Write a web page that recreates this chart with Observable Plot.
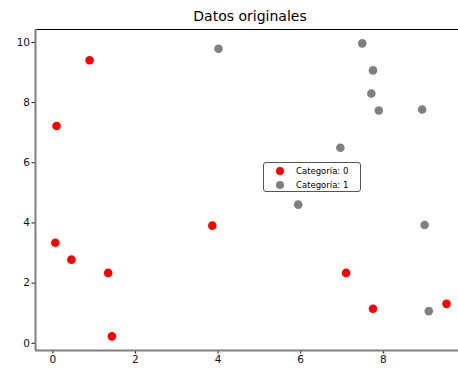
<!DOCTYPE html>
<html>
<head>
<meta charset="utf-8">
<script src="https://cdn.jsdelivr.net/npm/d3@7"></script>
<script src="https://cdn.jsdelivr.net/npm/@observablehq/plot@0.6"></script>
<style>
  html, body { margin: 0; padding: 0; background: #fff; }
  #wrap { position: relative; width: 458px; height: 372px; font-family: "DejaVu Sans", sans-serif; }
  #title { height: 24px; width: 500px; text-align: center; font-size: 14px; line-height: 14px; padding-top: 9px; box-sizing: border-box; color: #000; }
  #legend { position: absolute; left: 263px; top: 162px; width: 96px; height: 28px; border: 1px solid #555; border-radius: 3px; background: rgba(255,255,255,0.8); font-size: 8.5px; color: #000; }
  .row { position: absolute; left: 0; height: 12px; line-height: 12px; }
  .sw { position: absolute; left: 12px; top: 2px; width: 8px; height: 8px; border-radius: 50%; }
  .lb { position: absolute; left: 32px; top: 0; white-space: nowrap; }
</style>
</head>
<body>
<div id="wrap">
  <div id="title">Datos originales</div>
  <div id="chart"></div>
  <div id="legend"></div>
</div>
<script>
const cat0X = [0.09, 0.89, 0.06, 0.45, 1.34, 1.43, 3.86, 7.10, 7.75, 9.53];
const cat0Y = [7.22, 9.41, 3.34, 2.78, 2.34, 0.23, 3.91, 2.34, 1.15, 1.31];
const cat1X = [4.01, 7.49, 7.75, 7.71, 7.89, 8.94, 6.96, 5.94, 9.00, 9.10];
const cat1Y = [9.79, 9.97, 9.07, 8.30, 7.74, 7.77, 6.50, 4.61, 3.93, 1.07];
const categories = ["Categoría: 0", "Categoría: 1"];
const colors = ["#ff0000", "#808080"];
const xTicks = [0, 2, 4, 6, 8];
const yTicks = [0, 2, 4, 6, 8, 10];
const xDomain = [-0.42, 9.82];
const yDomain = [-0.24, 10.43];

const data0 = cat0X.map((x, i) => ({x, y: cat0Y[i]}));
const data1 = cat1X.map((x, i) => ({x, y: cat1Y[i]}));

const plot = Plot.plot({
  width: 458,
  height: 348,
  marginLeft: 35,
  marginRight: 0,
  marginTop: 5,
  marginBottom: 22,
  style: {fontFamily: "DejaVu Sans, sans-serif", fontSize: "10.5px", color: "#111", background: "#fff", overflow: "visible"},
  x: {domain: xDomain, ticks: xTicks, tickSize: 3.5, tickPadding: 2, label: null, tickFormat: d3.format("d")},
  y: {domain: yDomain, ticks: yTicks, tickSize: 3.5, tickPadding: 2, label: null, tickFormat: d3.format("d")},
  marks: [
    Plot.ruleY([yDomain[1]], {stroke: "#000", strokeWidth: 1}),
    Plot.ruleX([xDomain[0]], {stroke: "#7f7f7f", strokeWidth: 2}),
    Plot.ruleY([yDomain[0]], {stroke: "#7f7f7f", strokeWidth: 2}),
    Plot.dot(data0, {x: "x", y: "y", r: 4.3, fill: colors[0], stroke: "none"}),
    Plot.dot(data1, {x: "x", y: "y", r: 4.3, fill: colors[1], stroke: "none"})
  ]
});
document.getElementById("chart").appendChild(plot);

const legend = document.getElementById("legend");
categories.forEach((c, i) => {
  const row = document.createElement("div");
  row.className = "row";
  row.style.top = (2 + i * 14) + "px";
  row.innerHTML = `<span class="sw" style="background:${colors[i]}"></span><span class="lb">${c}</span>`;
  legend.appendChild(row);
});
</script>
</body>
</html>
